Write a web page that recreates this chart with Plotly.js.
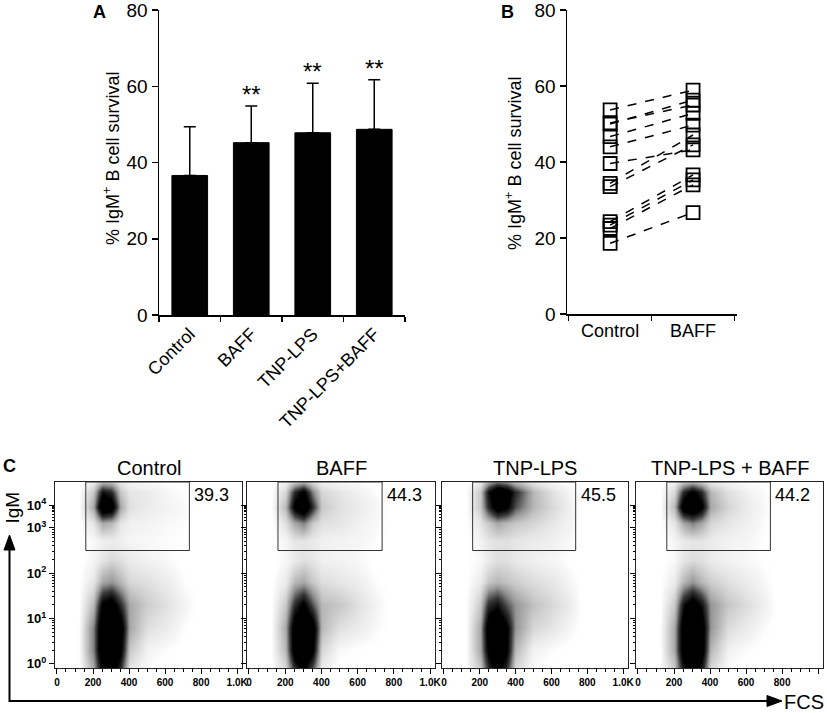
<!DOCTYPE html>
<html>
<head>
<meta charset="utf-8">
<script src="https://cdn.plot.ly/plotly-3.0.1.min.js"></script>
<style>html,body{margin:0;padding:0;background:#fff;}#chart{width:827px;height:713px;}</style>
</head>
<body>
<div id="chart"></div>
<script>
// ---------- Panel A data ----------
const categoriesA = ['Control', 'BAFF', 'TNP-LPS', 'TNP-LPS+BAFF'];
const meanA = [36.6, 45.2, 47.8, 48.7];
const sdA = [12.8, 9.6, 13.0, 13.0];
const sigA = ['', '**', '**', '**'];

// ---------- Panel B data (paired samples) ----------
const categoriesB = ['Control', 'BAFF'];
const pairControl = [53.7, 50.0, 50.3, 46.7, 44.0, 39.6, 34.4, 33.5, 24.3, 23.4, 22.5, 18.6];
const pairBAFF    = [58.9, 56.3, 55.0, 52.8, 49.7, 43.2, 47.1, 44.5, 36.6, 35.3, 34.0, 26.7];

// ---------- Panel C data (estimated dot density, FCS x IgM decades) ----------
const flowTitles = ['Control', 'BAFF', 'TNP-LPS', 'TNP-LPS + BAFF'];
const gatePercents = ['39.3', '44.3', '45.5', '44.2'];
const fcsGrid = [120, 200, 250, 300, 350, 400, 500, 600, 700, 780];
const igmGrid = [-0.1, 0.3, 0.8, 1.3, 1.8, 2.3, 2.7, 3.1, 3.45, 3.8, 4.05];
const fcsTicks = [0, 200, 400, 600, 800, 1000];
const fcsTickText = ['0', '200', '400', '600', '800', '1.0K'];
const igmTicks = [0, 1, 2, 3, 3.5];
const igmTickText = ['10<sup>0</sup>', '10<sup>1</sup>', '10<sup>2</sup>', '10<sup>3</sup>', '10<sup>4</sup>'];

const densityControl = [
  [0, 3, 8, 9, 6, 1, 0.2, 0, 0, 0],
  [0, 4, 10, 10, 8, 2, 0.5, 0.2, 0, 0],
  [0, 4, 10, 10, 9, 3, 1.2, 0.8, 0.2, 0],
  [0, 2.5, 8, 9, 6, 3, 1.8, 1.2, 0.5, 0],
  [0, 1, 3, 3.5, 2.5, 1.5, 1.2, 0.8, 0.2, 0],
  [0, 0.4, 1, 1.5, 1.2, 0.8, 0.5, 0.3, 0, 0],
  [0, 0.3, 0.6, 0.7, 0.6, 0.4, 0.3, 0.2, 0.1, 0],
  [0, 1, 3, 2.5, 1, 0.6, 0.5, 0.3, 0.2, 0],
  [0, 3, 10, 9, 3, 1.2, 0.8, 0.5, 0.3, 0],
  [0, 2, 7, 6, 2, 1, 0.8, 0.4, 0.1, 0],
  [0, 0.5, 1.5, 1.5, 0.6, 0.3, 0.2, 0.1, 0, 0]
];
const densityBAFF = [
  [0, 1.5, 6, 8, 5, 0.8, 0, 0, 0, 0],
  [0, 2.5, 9, 10, 8, 1.5, 0.3, 0.1, 0, 0],
  [0, 3, 9, 10, 9, 2.5, 1.2, 0.8, 0.3, 0],
  [0, 2, 6, 8, 5, 2.5, 2, 1.2, 0.5, 0],
  [0, 0.8, 2.5, 3, 2, 1.3, 1, 0.7, 0.2, 0],
  [0, 0.3, 0.8, 1.2, 1, 0.6, 0.5, 0.3, 0, 0],
  [0, 0.4, 1, 1, 0.8, 0.6, 0.5, 0.4, 0.2, 0],
  [0, 1.2, 3, 4, 2, 1.2, 1, 0.6, 0.3, 0],
  [0, 2.5, 8, 10, 6, 2, 1.2, 0.8, 0.4, 0],
  [0, 1.5, 6, 8, 4, 1.5, 1, 0.6, 0.2, 0],
  [0, 0.3, 1, 1.5, 0.8, 0.4, 0.2, 0.1, 0, 0]
];
const densityTNP = [
  [0, 2, 6, 8, 6, 1.5, 0.2, 0, 0, 0],
  [0, 3, 8, 10, 8, 2.5, 0.5, 0.2, 0, 0],
  [0, 3, 9, 10, 8, 3.5, 1.5, 1, 0.4, 0],
  [0, 2, 6, 7, 5, 3.5, 2.2, 1.5, 0.8, 0],
  [0, 0.8, 2, 2.5, 2.2, 1.8, 1.3, 1, 0.4, 0],
  [0, 0.3, 0.8, 1.2, 1.2, 0.9, 0.6, 0.4, 0.1, 0],
  [0, 0.5, 1, 1.2, 1.2, 1, 0.8, 0.6, 0.3, 0],
  [0, 1, 2, 3, 2.5, 2, 1.5, 1, 0.5, 0],
  [0, 2, 6, 9, 8, 5, 2.5, 1.5, 0.6, 0],
  [0, 2, 7, 10, 9, 6, 2.5, 1.2, 0.4, 0],
  [0, 0.5, 2, 3, 2.5, 1.5, 0.6, 0.2, 0, 0]
];
const densityTNPBAFF = [
  [0, 2, 7, 9, 7, 1.5, 0.2, 0, 0, 0],
  [0, 3, 9, 10, 9, 2.5, 0.5, 0.2, 0, 0],
  [0, 3, 9, 10, 9, 3.5, 1.3, 0.8, 0.2, 0],
  [0, 2, 7, 9, 7, 3.5, 2, 1.3, 0.6, 0],
  [0, 0.8, 2.5, 3.5, 2.5, 1.8, 1.2, 0.8, 0.3, 0],
  [0, 0.3, 1, 1.3, 1.2, 0.8, 0.5, 0.3, 0.1, 0],
  [0, 0.4, 0.8, 1, 1, 0.8, 0.5, 0.4, 0.1, 0],
  [0, 1, 3, 4, 3, 1.5, 1, 0.6, 0.2, 0],
  [0, 2.5, 9, 10, 8, 3, 1.5, 0.8, 0.3, 0],
  [0, 1.5, 6, 8, 6, 2.5, 1.2, 0.6, 0.2, 0],
  [0, 0.4, 1.2, 1.5, 1, 0.5, 0.3, 0.1, 0, 0]
];
const flowDensities = [densityControl, densityBAFF, densityTNP, densityTNPBAFF];
const gateBox = {fcsLow: 160, fcsHigh: 735, igmLow: 2.5};

// ---------- layout geometry (pixels -> paper) ----------
const W = 827, H = 713;
const px = v => v / W;
const py = v => 1 - v / H;
const FONT = 'Arial, "Liberation Sans", Helvetica, sans-serif';

// log-style minor tick positions on the decade axis
const igmMinor = [];
[0, 1, 2].forEach(d => { for (let k = 2; k <= 9; k++) igmMinor.push(d + Math.log10(k)); });
for (let k = 2; k <= 9; k++) igmMinor.push(3 + Math.log10(k) / 2);

const traces = [];

// Panel A bars
traces.push({
  type: 'bar', x: categoriesA, y: meanA, xaxis: 'x', yaxis: 'y',
  marker: {color: '#000', line: {color: '#000', width: 1}},
  width: 0.58,
  error_y: {type: 'data', array: sdA, arrayminus: sdA.map(() => 0), symmetric: false,
            color: '#000', thickness: 1.5, width: 6},
  hoverinfo: 'skip'
});

// Panel B pairs
for (let i = 0; i < pairControl.length; i++) {
  traces.push({
    type: 'scatter', mode: 'lines+markers', x: categoriesB, y: [pairControl[i], pairBAFF[i]],
    xaxis: 'x2', yaxis: 'y2',
    line: {color: '#000', width: 1.5, dash: 'dash'},
    marker: {symbol: 'square-open', size: 13, color: '#000', line: {width: 1.8, color: '#000'}},
    showlegend: false, hoverinfo: 'skip'
  });
}

// Panel C density plots
const grey = [[0, 'rgba(255,255,255,0)'], [0.03, 'rgba(248,248,248,1)'], [0.1, '#e6e6e6'],
              [0.2, '#c8c8c8'], [0.35, '#969696'], [0.55, '#383838'], [0.75, '#000'], [1, '#000']];
flowDensities.forEach((z, k) => {
  traces.push({
    type: 'heatmap', x: fcsGrid, y: igmGrid, z: z,
    xaxis: 'x' + (k + 3), yaxis: 'y' + (k + 3),
    zmin: 0, zmax: 10, zsmooth: 'best', colorscale: grey, showscale: false, hoverinfo: 'skip'
  });
});

const flowDomains = [[55, 242], [247, 435], [442, 628], [636, 823]];
const layout = {
  width: W, height: H, margin: {l: 0, r: 0, t: 0, b: 0},
  paper_bgcolor: '#fff', plot_bgcolor: 'rgba(0,0,0,0)',
  font: {family: FONT, color: '#000', size: 18},
  showlegend: false,
  xaxis: {domain: [px(159), px(405)], type: 'category', range: [-0.5, 3.5], anchor: 'y',
          showline: true, linecolor: '#000', linewidth: 1.5, ticks: 'outside', tickson: 'boundaries',
          ticklen: 5, tickwidth: 1.5, tickcolor: '#000', tickangle: -45, tickfont: {size: 18},
          showgrid: false, zeroline: false, fixedrange: true},
  yaxis: {domain: [py(315), py(10)], range: [0, 80], dtick: 20, anchor: 'x', ticklabeloverflow: 'allow',
          showline: true, linecolor: '#000', linewidth: 1.5, ticks: 'outside', ticklen: 6, tickwidth: 1.5,
          tickcolor: '#000', tickfont: {size: 19}, showgrid: false, zeroline: false, fixedrange: true},
  xaxis2: {domain: [px(567), px(737)], type: 'category', range: [-0.52, 1.53], anchor: 'y2',
           showline: true, linecolor: '#000', linewidth: 1.5, ticks: 'outside', tickson: 'boundaries',
           ticklen: 5, tickwidth: 1.5, tickcolor: '#000', tickfont: {size: 18},
           showgrid: false, zeroline: false, fixedrange: true},
  yaxis2: {domain: [py(314), py(10)], range: [0, 80], dtick: 20, anchor: 'x2', ticklabeloverflow: 'allow',
           showline: true, linecolor: '#000', linewidth: 1.5, ticks: 'outside', ticklen: 6, tickwidth: 1.5,
           tickcolor: '#000', tickfont: {size: 19}, showgrid: false, zeroline: false, fixedrange: true},
  shapes: [],
  annotations: []
};

flowDomains.forEach((d, k) => {
  const n = k + 3;
  layout['xaxis' + n] = {
    domain: [px(d[0]), px(d[1])], range: [-11, 1027], anchor: 'y' + n,
    showline: true, mirror: true, linecolor: '#222', linewidth: 1,
    ticks: 'outside', ticklen: 5, tickcolor: '#000', tickmode: 'array',
    tickvals: fcsTicks, ticktext: fcsTickText.map(t => '<b>' + t + '</b>'),
    tickfont: {size: 10}, minor: {tickmode: 'linear', tick0: 0, dtick: 50, ticks: 'outside', ticklen: 3, tickcolor: '#000'},
    showgrid: false, zeroline: false, fixedrange: true
  };
  layout['yaxis' + n] = {
    domain: [py(668), py(482)], range: [-0.09, 4.01], anchor: 'x' + n,
    showline: true, mirror: true, linecolor: '#222', linewidth: 1,
    ticks: 'outside', ticklen: 5, tickcolor: '#000', tickmode: 'array',
    tickvals: igmTicks, ticktext: igmTickText.map(t => '<b>' + t + '</b>'),
    showticklabels: k === 0, tickfont: {size: 13},
    minor: {tickmode: 'array', tickvals: igmMinor, ticks: 'outside', ticklen: 2.5, tickcolor: '#000'},
    showgrid: false, zeroline: false, fixedrange: true
  };
  layout.shapes.push({type: 'rect', xref: 'x' + n, yref: 'y' + n,
    x0: gateBox.fcsLow, x1: gateBox.fcsHigh, y0: gateBox.igmLow, y1: 4.01,
    line: {color: '#333', width: 1}, fillcolor: 'rgba(0,0,0,0)'});
  layout.annotations.push({xref: 'x' + n, yref: 'y' + n, x: 860, y: 3.73, text: gatePercents[k],
    showarrow: false, xanchor: 'center', yanchor: 'middle', font: {size: 18}});
  layout.annotations.push({xref: 'paper', yref: 'paper', x: px((d[0] + d[1]) / 2), y: py(468),
    text: flowTitles[k], showarrow: false, xanchor: 'center', yanchor: 'middle', font: {size: 20}});
});

// significance stars on panel A
categoriesA.forEach((c, i) => {
  if (sigA[i]) layout.annotations.push({xref: 'x', yref: 'y', x: c, y: meanA[i] + sdA[i],
    text: sigA[i], showarrow: false, xanchor: 'center', yanchor: 'bottom', yshift: -4, font: {size: 24}});
});

// axis titles & panel letters
const yTitle = '% IgM<sup>+</sup> B cell survival';
layout.annotations.push(
  {xref: 'paper', yref: 'paper', x: px(112), y: py(159), text: yTitle, textangle: -90, showarrow: false,
   xanchor: 'center', yanchor: 'middle', font: {size: 18}},
  {xref: 'paper', yref: 'paper', x: px(513), y: py(164), text: yTitle, textangle: -90, showarrow: false,
   xanchor: 'center', yanchor: 'middle', font: {size: 18}},
  {xref: 'paper', yref: 'paper', x: px(99), y: py(0), text: '<b>A</b>', showarrow: false,
   xanchor: 'center', yanchor: 'top', font: {size: 18}},
  {xref: 'paper', yref: 'paper', x: px(507), y: py(0), text: '<b>B</b>', showarrow: false,
   xanchor: 'center', yanchor: 'top', font: {size: 18}},
  {xref: 'paper', yref: 'paper', x: px(9), y: py(466), text: '<b>C</b>', showarrow: false,
   xanchor: 'center', yanchor: 'middle', font: {size: 18}},
  {xref: 'paper', yref: 'paper', x: px(11.5), y: py(508), text: 'IgM', textangle: -90, showarrow: false,
   xanchor: 'center', yanchor: 'middle', font: {size: 19}},
  {xref: 'paper', yref: 'paper', x: px(804), y: py(702), text: 'FCS', showarrow: false,
   xanchor: 'center', yanchor: 'middle', font: {size: 20}}
);

// big L-shaped arrow axes for panel C
const P = (x, y) => px(x).toFixed(5) + ',' + py(y).toFixed(5);
layout.shapes.push(
  {type: 'path', xref: 'paper', yref: 'paper',
   path: 'M' + P(9.5, 548) + ' L' + P(9.5, 701) + ' L' + P(770, 701),
   line: {color: '#000', width: 2}},
  {type: 'path', xref: 'paper', yref: 'paper',
   path: 'M' + P(9.5, 535) + ' L' + P(4, 550) + ' L' + P(15, 550) + ' Z',
   line: {color: '#000', width: 1}, fillcolor: '#000'},
  {type: 'path', xref: 'paper', yref: 'paper',
   path: 'M' + P(782, 701) + ' L' + P(767, 695.5) + ' L' + P(767, 706.5) + ' Z',
   line: {color: '#000', width: 1}, fillcolor: '#000'}
);

Plotly.newPlot('chart', traces, layout, {staticPlot: true, displayModeBar: false});
</script>
</body>
</html>
